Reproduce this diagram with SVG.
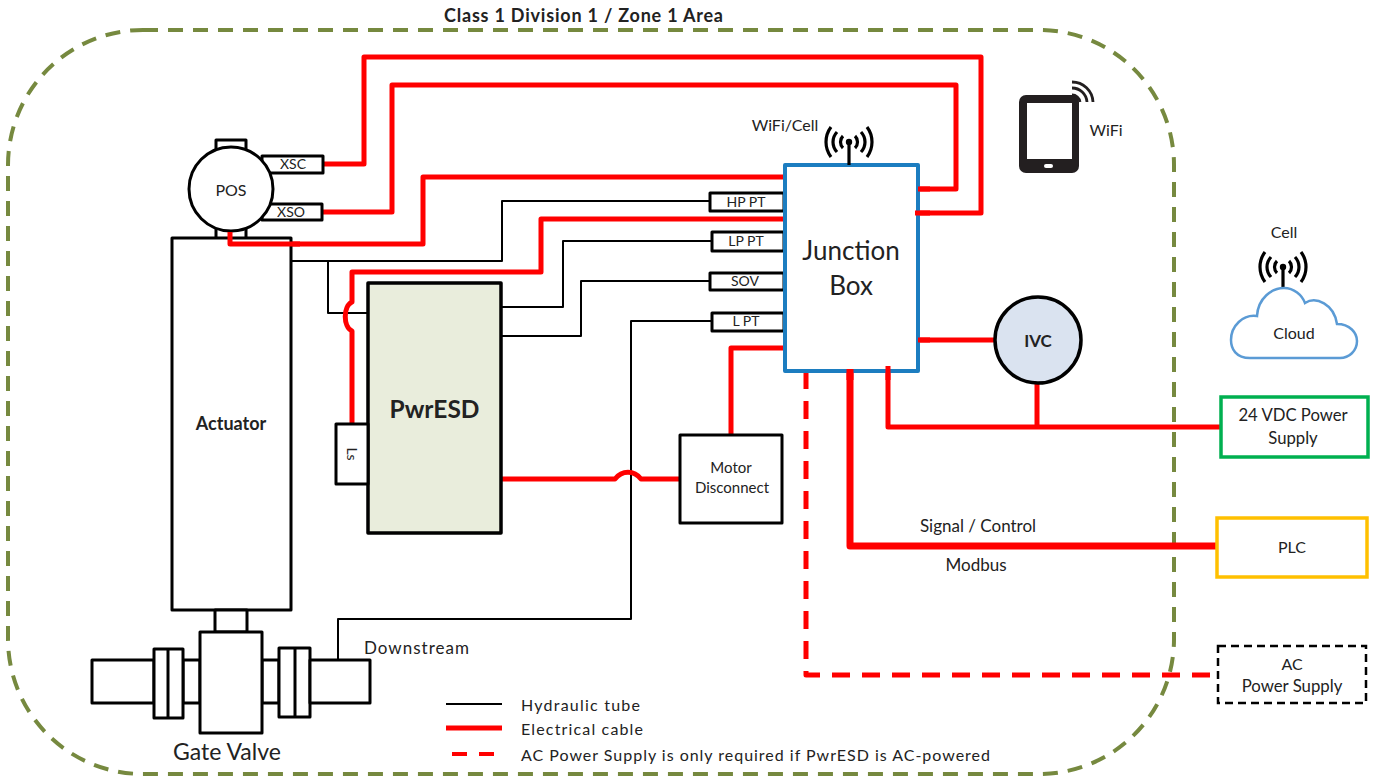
<svg xmlns="http://www.w3.org/2000/svg" width="1374" height="776" viewBox="0 0 1374 776">
<style>
text{font-family:"Lato","Open Sans","Liberation Sans",sans-serif;fill:#222;text-anchor:middle}
.b{fill:#fff;stroke:#000;stroke-width:3;stroke-linejoin:round}
.t{fill:none;stroke:#000;stroke-width:2;stroke-linejoin:round}
.r{fill:none;stroke:#f00;stroke-width:5;stroke-linejoin:round}
.s{font-size:14px}
.m{font-size:16px}
.l{font-size:16px;text-anchor:start}
</style>
<defs>
<g id="antenna" fill="none" stroke="#000" stroke-width="3.2">
<path d="M0,0V23" stroke-width="3.2"/>
<circle cx="0" cy="0" r="3.2" fill="#000" stroke="none"/>
<path d="M-6,-6A8.4,8.4 0 0 0 -6,6M6,-6A8.4,8.4 0 0 1 6,6M-12,-10A14.5,14.5 0 0 0 -12,10M12,-10A14.5,14.5 0 0 1 12,10M-18,-15A25,25 0 0 0 -18,15M18,-15A25,25 0 0 1 18,15"/>
</g>
</defs>
<rect id="zone" x="8" y="30" width="1166" height="744" rx="135" ry="135" fill="none" stroke="#76893f" stroke-width="4" stroke-dasharray="15 10"/>
<text x="583.500" y="22" font-size="18" font-weight="700" textLength="279" lengthAdjust="spacing">Class 1 Division 1 / Zone 1 Area</text>

<g id="connectors">
<path class="t" d="M291,261H502V201H710"/>
<path class="t" d="M328,261V313H368"/>
<path class="t" d="M501,307H563V241H712"/>
<path class="t" d="M501,336H581V281H710"/>
<path class="t" d="M338,660V619H631V321H712"/>
<path class="r" d="M323,164H364V57H981V213H915"/>
<path class="r" d="M322,212H392V85H956V189H918"/>
<path class="r" d="M230,232V244H423V177H784"/>
<path class="r" d="M352,424V331C343,327 343,306 352,302V272H541V219H783"/>
<path class="r" d="M501,479H615C622,470 634,470 641,479H680"/>
<path class="r" d="M783,348H731V435"/>
<path class="r" d="M918,340H996"/>
<path class="r" d="M888,367V427H1221"/>
<path class="r" d="M1037,383V427"/>
<path class="r" style="stroke-width:7" d="M850,371V546H1217"/>
<path class="r" stroke-dasharray="18 12" d="M806,371V675H1217"/>
</g>

<g id="pos">
<rect class="b" x="216" y="140" width="30" height="12"/>
<rect class="b" x="216" y="228" width="30" height="11"/>
<rect class="b" x="262" y="156" width="61" height="17"/>
<rect class="b" x="262" y="204" width="60" height="16"/>
<circle class="b" cx="231" cy="189" r="42"/>
<text class="m" x="231" y="196">POS</text>
<text class="s" x="293" y="169">XSC</text>
<text class="s" x="291" y="217">XSO</text>
</g>
<g id="actuator">
<rect class="b" x="172" y="238" width="119" height="372"/>
<text x="231" y="430" font-size="18" font-weight="700">Actuator</text>
</g>
<path class="r" d="M230,232V244H300"/>
<g id="pwresd">
<rect x="368" y="283" width="133" height="250" fill="#e9eddc" stroke="#000" stroke-width="3.5" stroke-linejoin="round"/>
<text x="434.500" y="418" font-size="24.500" font-weight="700">PwrESD</text>
</g>
<g id="ls">
<rect class="b" x="336" y="424" width="32" height="60"/>
<text class="s" transform="translate(347,454) rotate(90)">Ls</text>
</g>
<g id="motor">
<rect class="b" x="680" y="435" width="102" height="88"/>
<text font-size="15" x="731" y="473">Motor</text>
<text font-size="15" x="732" y="493">Disconnect</text>
</g>
<g id="sensors">
<rect class="b" x="710" y="193" width="74" height="18"/><text class="s" x="746" y="207">HP PT</text>
<rect class="b" x="712" y="232" width="72" height="19"/><text class="s" x="746" y="246">LP PT</text>
<rect class="b" x="710" y="273" width="74" height="17"/><text class="s" x="745" y="286">SOV</text>
<rect class="b" x="712" y="313" width="72" height="18"/><text class="s" x="746" y="326">L PT</text>
</g>
<g id="junction">
<rect x="785" y="165" width="133" height="206" fill="#fff" stroke="#1c7dc0" stroke-width="4" stroke-linejoin="round"/>
<text x="851" y="260" font-size="26">Junction</text>
<text x="851" y="295" font-size="26">Box</text>
<use href="#antenna" x="849" y="142"/>
<text class="m" x="785" y="131">WiFi/Cell</text>
</g>
<path class="r" d="M915,213H930M918,189H930M918,340H930"/>
<path class="r" style="stroke-width:7" d="M850,369V380"/>
<path class="r" d="M888,366V380"/>
<g id="ivc">
<circle cx="1038" cy="340" r="43" fill="#dae3f0" stroke="#000" stroke-width="3.5"/>
<text x="1038" y="347" font-size="17" font-weight="700">IVC</text>
</g>
<g id="tablet">
<rect x="1019" y="95" width="60" height="78" rx="7" fill="#231f20"/>
<rect x="1027" y="103" width="45" height="56" fill="#fff"/>
<rect x="1044" y="164" width="9" height="4" rx="2" fill="#fff"/>
<path fill="none" stroke="#231f20" stroke-width="2.800" d="M1072,95A8,8 0 0 1 1080,102M1072,88A15,15 0 0 1 1087,102M1072,82A21,21 0 0 1 1093,102"/>
<text class="m" x="1106" y="136">WiFi</text>
</g>
<g id="cloud">
<text class="m" x="1284" y="238">Cell</text>
<use href="#antenna" x="1283" y="267"/>
<path fill="#fff" stroke="#5b9bd5" stroke-width="2.5" d="M1250,358C1236,358 1231,349 1231,340C1231,326 1243,314 1257,316C1258,298 1272,288 1284,288C1294,288 1302,295 1305,303C1316,296 1334,304 1337,324C1350,324 1357,333 1357,341C1357,351 1349,358 1340,358Z"/>
<text class="m" x="1294" y="339">Cloud</text>
</g>
<g id="power24">
<rect x="1221" y="397" width="147" height="60" fill="#fff" stroke="#00b050" stroke-width="3.5"/>
<text font-size="16.700" x="1293" y="421">24 VDC Power</text>
<text font-size="16.700" x="1293" y="444">Supply</text>
</g>
<g id="plc">
<rect x="1217" y="518" width="150" height="59" fill="#fff" stroke="#ffc000" stroke-width="3.5"/>
<text class="m" x="1292" y="553">PLC</text>
</g>
<g id="ac">
<rect x="1218" y="646" width="148" height="57" fill="#fff" stroke="#000" stroke-width="2.5" stroke-dasharray="8 5"/>
<text class="m" x="1292" y="670">AC</text>
<text font-size="16.800" x="1292" y="692">Power Supply</text>
</g>
<text font-size="17" x="978" y="532">Signal / Control</text>
<text font-size="17" x="976" y="571">Modbus</text>
<g id="valve">
<rect class="b" x="215" y="610" width="32" height="22"/>
<rect class="b" x="92" y="660" width="62" height="43"/>
<rect class="b" x="183" y="660" width="17" height="43"/>
<rect class="b" x="154" y="649" width="29" height="69"/>
<path class="b" d="M168,649V718"/>
<rect class="b" x="262" y="660" width="17" height="43"/>
<rect class="b" x="279" y="648" width="31" height="69"/>
<path class="b" d="M295,648V717"/>
<rect class="b" x="310" y="660" width="60" height="43"/>
<rect class="b" x="200" y="632" width="62" height="101"/>
<text x="227" y="760" font-size="23">Gate Valve</text>
<text x="416.500" y="654" font-size="17" textLength="105" lengthAdjust="spacing">Downstream</text>
</g>
<g id="legend">
<path d="M446,704H502" stroke="#000" stroke-width="2"/>
<path d="M446,728H502" stroke="#f00" stroke-width="5"/>
<path d="M452,754H502" stroke="#f00" stroke-width="4" stroke-dasharray="15 12"/>
<text class="l" x="521" y="711" textLength="119" lengthAdjust="spacing">Hydraulic tube</text>
<text class="l" x="521" y="735" textLength="122" lengthAdjust="spacing">Electrical cable</text>
<text class="l" x="521" y="761" textLength="469" lengthAdjust="spacing">AC Power Supply is only required if PwrESD is AC-powered</text>
</g>
</svg>
